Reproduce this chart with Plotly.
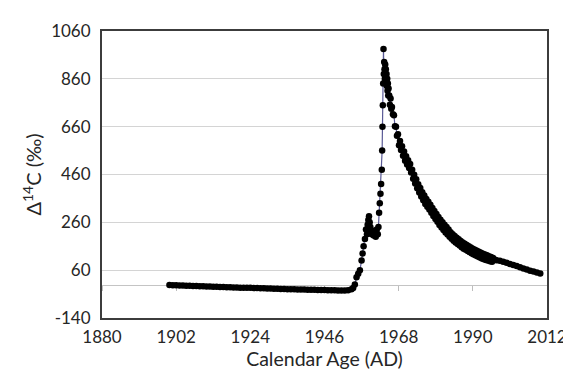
import plotly.graph_objects as go

# ---- data ----
years_pre = [1900, 1901, 1902, 1903, 1904, 1905, 1906, 1907, 1908, 1909,
             1910, 1911, 1912, 1913, 1914, 1915, 1916, 1917, 1918, 1919,
             1920, 1921, 1922, 1923, 1924, 1925, 1926, 1927, 1928, 1929,
             1930, 1931, 1932, 1933, 1934, 1935, 1936, 1937, 1938, 1939,
             1940, 1941, 1942, 1943, 1944, 1945, 1946, 1947, 1948, 1949,
             1950, 1951, 1952, 1953, 1954]
d14c_pre = [-2, -3, -3, -4, -4, -5, -5, -6, -6, -7,
            -7, -8, -8, -9, -9, -10, -10, -11, -11, -12,
            -12, -13, -13, -14, -14, -15, -15, -16, -16, -17,
            -17, -18, -18, -19, -19, -20, -20, -20, -21, -21,
            -21, -22, -22, -22, -23, -23, -23, -24, -24, -24,
            -25, -25, -25, -24, -20]

years_bomb = [1954.5, 1955.0, 1955.5, 1956.0, 1956.5, 1957.0, 1957.3, 1957.6, 1958.0, 1958.3,
              1958.6, 1958.8, 1959.0, 1959.2, 1959.4, 1959.6, 1959.8, 1960.0, 1960.3, 1960.6,
              1960.9, 1961.2, 1961.5, 1961.8, 1962.0, 1962.2, 1962.4, 1962.6, 1962.8, 1963.0,
              1963.1, 1963.2, 1963.3, 1963.4, 1963.5, 1963.6, 1963.7, 1963.8, 1963.9, 1964.0,
              1964.1, 1964.2, 1964.3, 1964.4, 1964.5, 1964.6, 1964.7, 1964.8, 1964.9, 1965.0,
              1965.2, 1965.4, 1965.6, 1965.8, 1966.0, 1966.3, 1966.6, 1966.9, 1967.2, 1967.5,
              1967.8, 1968.1, 1968.4, 1968.7, 1969.0, 1969.3, 1969.6, 1969.9, 1970.2, 1970.5,
              1970.8, 1971.1, 1971.4, 1971.7, 1972.0, 1972.3, 1972.6, 1972.9, 1973.2, 1973.5,
              1973.8, 1974.1, 1974.4, 1974.7, 1975.0, 1975.3, 1975.6, 1975.9, 1976.2, 1976.5,
              1976.8, 1977.1, 1977.4, 1977.7, 1978.0, 1978.3, 1978.6, 1978.9, 1979.2, 1979.5,
              1979.8, 1980.1, 1980.4, 1980.7, 1981.0, 1981.3, 1981.6, 1981.9, 1982.2, 1982.5,
              1982.8, 1983.1, 1983.4, 1983.7, 1984.0, 1984.3, 1984.6, 1984.9, 1985.2, 1985.5,
              1985.8, 1986.1, 1986.4, 1986.7, 1987.0, 1987.3, 1987.6, 1987.9, 1988.2, 1988.5,
              1988.8, 1989.1, 1989.4, 1989.7, 1990.0, 1990.3, 1990.6, 1990.9, 1991.2, 1991.5,
              1991.8, 1992.1, 1992.4, 1992.7, 1993.0, 1993.3, 1993.6, 1993.9, 1994.2, 1994.5,
              1994.8, 1995.1, 1995.4, 1995.7, 1996.0, 1996.6, 1997.0, 1998.0, 1999.0, 2000.0,
              2001.0, 2002.0, 2003.0, 2004.0, 2005.0, 2006.0, 2007.0, 2008.0, 2009.0, 2010.0]
d14c_bomb = [-15, 0, 30, 45, 60, 100, 130, 160, 190, 230,
             210, 250, 270, 285, 260, 240, 220, 210, 225, 205,
             215, 200, 230, 210, 240, 300, 340, 380, 420, 480,
             560, 660, 750, 840, 985, 880, 930, 900, 860, 920,
             870, 900, 850, 880, 830, 860, 810, 840, 790, 820,
             790, 752, 778, 735, 742, 712, 708, 662, 660, 622,
             628, 582, 600, 562, 578, 538, 556, 518, 536, 502,
             520, 487, 504, 468, 480, 442, 459, 422, 440, 402,
             419, 385, 404, 368, 386, 352, 372, 337, 358, 325,
             346, 314, 334, 300, 320, 287, 307, 274, 295, 262,
             282, 249, 271, 238, 260, 228, 250, 218, 240, 209,
             230, 200, 219, 191, 210, 183, 203, 176, 196, 169,
             189, 163, 182, 156, 176, 150, 170, 145, 165, 140,
             160, 135, 155, 130, 150, 126, 145, 121, 141, 117,
             137, 113, 133, 109, 129, 106, 126, 103, 122, 100,
             118, 97, 115, 95, 111, 104, 101, 99, 95, 91,
             86, 82, 77, 72, 67, 63, 58, 54, 50, 46]

years = years_pre + years_bomb
d14c = d14c_pre + d14c_bomb

x_ticks = [1880, 1902, 1924, 1946, 1968, 1990, 2012]
y_ticks = [-140, 60, 260, 460, 660, 860, 1060]

FONT = "Lato, 'Open Sans', sans-serif"
TXT = "#262626"

fig = go.Figure()
# anchor trace for the main (labelled) x axis
fig.add_trace(go.Scatter(x=[x_ticks[0]], y=[y_ticks[0]], mode="markers",
                         marker=dict(opacity=0), hoverinfo="skip", showlegend=False))
fig.add_trace(go.Scatter(
    x=years, y=d14c, xaxis="x2", yaxis="y",
    mode="lines+markers",
    line=dict(color="#5a5a96", width=1.2),
    marker=dict(color="black", size=6.5, symbol="circle"),
    showlegend=False,
))

fig.update_layout(
    width=571, height=371,
    margin=dict(l=94, r=21, t=20, b=61),
    paper_bgcolor="white", plot_bgcolor="white",
    font=dict(family=FONT, color=TXT, size=17),
    xaxis=dict(
        range=[1880, 2012], tickvals=x_ticks, ticktext=[str(v) for v in x_ticks],
        showgrid=False, zeroline=False, ticks="",
        showline=True, mirror=True, linecolor="#3c3c3c", linewidth=2,
        tickfont=dict(size=17, color=TXT), ticklabelstandoff=3,
        title=dict(text="Calendar Age (AD)", font=dict(size=19.5, color=TXT), standoff=4),
    ),
    xaxis2=dict(
        overlaying="x", anchor="free", position=140 / 1200,
        range=[1880, 2012], tickvals=x_ticks, showticklabels=False,
        showgrid=False, zeroline=False, ticks="outside", ticklen=5,
        tickcolor="#bdbdbd", tickwidth=1,
        showline=True, linecolor="#c4c4c4", linewidth=1, layer="below traces",
    ),
    yaxis=dict(
        range=[-140, 1060], tickvals=y_ticks, ticktext=[str(v) for v in y_ticks],
        showgrid=True, gridcolor="#d4d4d4", gridwidth=1, zeroline=False, ticks="",
        showline=True, mirror=True, linecolor="#3c3c3c", linewidth=2,
        tickfont=dict(size=17, color=TXT), ticklabelstandoff=6,
        title=dict(text="\u0394<sup>14</sup>C (\u2030)", font=dict(size=20, color=TXT), standoff=4),
    ),
)

fig.write_html("out.html")
